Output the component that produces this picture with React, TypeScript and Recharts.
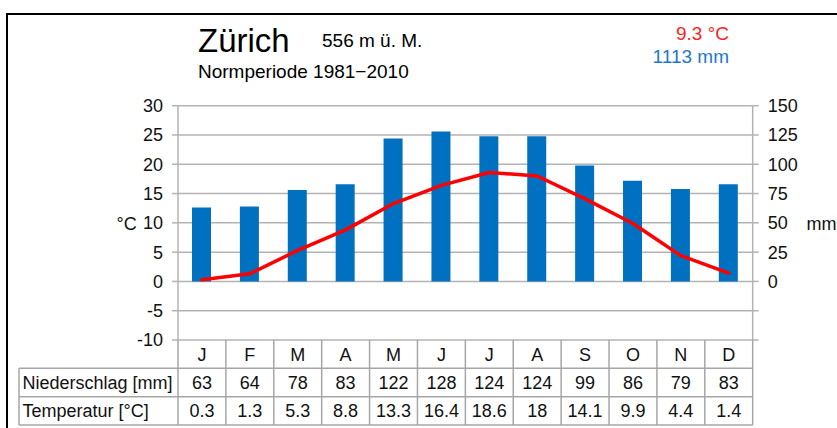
import React from 'react';
import { ComposedChart, Bar, Line, XAxis, YAxis, CartesianGrid } from 'recharts';

const months = ['J', 'F', 'M', 'A', 'M', 'J', 'J', 'A', 'S', 'O', 'N', 'D'];
const precipitation = [63, 64, 78, 83, 122, 128, 124, 124, 99, 86, 79, 83];
const temperature = [0.3, 1.3, 5.3, 8.8, 13.3, 16.4, 18.6, 18, 14.1, 9.9, 4.4, 1.4];
const tempTicks = [-10, -5, 0, 5, 10, 15, 20, 25, 30];
const precTicks = [-50, -25, 0, 25, 50, 75, 100, 125, 150];
const rowLabels = ['Niederschlag [mm]', 'Temperatur [°C]'];
const stationName = 'Zürich';
const altitude = '556 m ü. M.';
const period = 'Normperiode 1981−2010';
const annualTemp = '9.3 °C';
const annualPrec = '1113 mm';

const data = months.map((m, i) => ({ m: `${m}${i}`, p: precipitation[i], t: temperature[i] }));

const W = 837;
const H = 428;
const PLOT_L = 178;
const PLOT_R = 752.7;
const PLOT_T = 105.7;
const PLOT_B = 340;
const AXIS_W = 60;
const FONT = '"Liberation Sans", Arial, sans-serif';
const GRID = '#b3b3b3';
const TABLE_LINE = '#a6a6a6';

const ROW1 = 368.3;
const ROW2 = 396.7;
const ROW3 = 425;
const LABEL_L = 19;

export default function App() {
  const cw = (PLOT_R - PLOT_L) / months.length;
  const colX = (i: number) => PLOT_L + i * cw;
  return (
    <div style={{ position: 'fixed', left: 0, top: 0, width: W, height: H, overflow: 'hidden', background: '#fff', fontFamily: FONT }}>
      <div style={{ position: 'absolute', left: 6, top: 13, width: 2000, height: 2000, border: '2px solid #000' }} />
      <div style={{ position: 'absolute', left: 0, top: 0 }}>
        <ComposedChart
          width={W}
          height={H}
          data={data}
          margin={{ top: PLOT_T, left: PLOT_L - AXIS_W, right: W - PLOT_R - AXIS_W, bottom: H - PLOT_B }}
        >
          <CartesianGrid yAxisId="left" vertical={false} stroke={GRID} strokeWidth={1.5} />
          <XAxis dataKey="m" hide />
          <YAxis
            yAxisId="left"
            orientation="left"
            width={AXIS_W}
            domain={[-10, 30]}
            ticks={tempTicks}
            interval={0}
            tickSize={6}
            tickMargin={9}
            axisLine={{ stroke: GRID, strokeWidth: 1.5 }}
            tickLine={{ stroke: GRID, strokeWidth: 1.5 }}
            tick={{ fill: '#111', fontSize: 18, fontFamily: FONT }}
          />
          <YAxis
            yAxisId="right"
            orientation="right"
            width={AXIS_W}
            domain={[-50, 150]}
            ticks={precTicks}
            interval={0}
            tickSize={6}
            tickMargin={9}
            tickFormatter={(v: number) => (v < 0 ? '' : String(v))}
            axisLine={{ stroke: GRID, strokeWidth: 1.5 }}
            tickLine={{ stroke: GRID, strokeWidth: 1.5 }}
            tick={{ fill: '#111', fontSize: 18, fontFamily: FONT, textAnchor: 'start' }}
          />
          <Bar yAxisId="right" dataKey="p" fill="#0070c0" barSize={19} isAnimationActive={false} />
          <Line
            yAxisId="left"
            dataKey="t"
            type="linear"
            stroke="#ff0000"
            strokeWidth={3.5}
            dot={false}
            activeDot={false}
            strokeLinejoin="round"
            strokeLinecap="round"
            isAnimationActive={false}
          />
        </ComposedChart>
      </div>
      <svg width={W} height={H} style={{ position: 'absolute', left: 0, top: 0, pointerEvents: 'none' }} fontFamily={FONT}>
        <text x={198} y={51.7} fontSize={33} fill="#000">{stationName}</text>
        <text x={322} y={46.7} fontSize={19} fill="#000">{altitude}</text>
        <text x={198} y={78.3} fontSize={19} fill="#000">{period}</text>
        <text x={729} y={40} fontSize={19} fill="#ff2222" textAnchor="end">{annualTemp}</text>
        <text x={729} y={63.3} fontSize={19} fill="#1f77c8" textAnchor="end">{annualPrec}</text>
        <text x={116.5} y={229.5} fontSize={18} fill="#111">°C</text>
        <text x={806.5} y={229.5} fontSize={18} fill="#111">mm</text>

        {months.map((_, i) => (
          <line key={`v${i}`} x1={colX(i)} x2={colX(i)} y1={PLOT_B} y2={ROW3} stroke={TABLE_LINE} strokeWidth={1.5} />
        ))}
        <line x1={colX(12)} x2={colX(12)} y1={PLOT_B} y2={ROW3} stroke={TABLE_LINE} strokeWidth={1.5} />
        <line x1={LABEL_L} x2={LABEL_L} y1={ROW1} y2={ROW3} stroke={TABLE_LINE} strokeWidth={1.5} />
        {[ROW1, ROW2, ROW3].map((y, i) => (
          <line key={`h${i}`} x1={LABEL_L} x2={PLOT_R} y1={y} y2={y} stroke={TABLE_LINE} strokeWidth={1.5} />
        ))}

        {months.map((m, i) => (
          <text key={`m${i}`} x={colX(i) + cw / 2} y={(PLOT_B + ROW1) / 2 + 6.5} fontSize={18} textAnchor="middle" fill="#111">{m}</text>
        ))}
        {precipitation.map((v, i) => (
          <text key={`p${i}`} x={colX(i) + cw / 2} y={(ROW1 + ROW2) / 2 + 6.5} fontSize={18} textAnchor="middle" fill="#111">{String(v)}</text>
        ))}
        {temperature.map((v, i) => (
          <text key={`t${i}`} x={colX(i) + cw / 2} y={(ROW2 + ROW3) / 2 + 6.5} fontSize={18} textAnchor="middle" fill="#111">{String(v)}</text>
        ))}
        {rowLabels.map((l, i) => (
          <text key={`l${i}`} x={LABEL_L + 3.5} y={(i === 0 ? (ROW1 + ROW2) / 2 : (ROW2 + ROW3) / 2) + 6.5} fontSize={18} fill="#111">{l}</text>
        ))}
      </svg>
    </div>
  );
}
